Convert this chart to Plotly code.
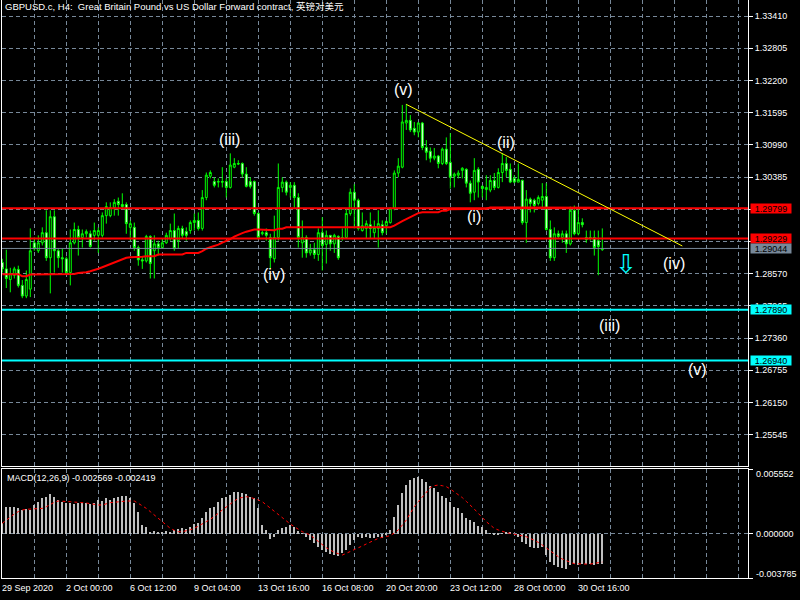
import plotly.graph_objects as go

# ---------------- data ----------------
bar_index = list(range(151))

opens = [1.2878, 1.2866, 1.2846, 1.2854, 1.2865, 1.2835, 1.2815, 1.2828, 1.2915, 1.2900,
         1.2915, 1.2934, 1.2887, 1.2964, 1.2900, 1.2887, 1.2885, 1.2859, 1.2915, 1.2940,
         1.2925, 1.2932, 1.2932, 1.2929, 1.2929, 1.2929, 1.2966, 1.2966, 1.2981, 1.2993,
         1.2987, 1.2987, 1.2944, 1.2944, 1.2906, 1.2883, 1.2881, 1.2927, 1.2900, 1.2913,
         1.2906, 1.2915, 1.2923, 1.2938, 1.2919, 1.2942, 1.2936, 1.2938, 1.2953, 1.2957,
         1.2942, 1.3000, 1.3040, 1.3030, 1.3029, 1.3030, 1.3030, 1.3019, 1.3057, 1.3064,
         1.3064, 1.3044, 1.3030, 1.3030, 1.2970, 1.2932, 1.2934, 1.2925, 1.2885, 1.2925,
         1.3019, 1.3029, 1.3019, 1.3023, 1.3000, 1.2915, 1.2925, 1.2896, 1.2902, 1.2893,
         1.2934, 1.2912, 1.2929, 1.2913, 1.2927, 1.2923, 1.2925, 1.2970, 1.3010, 1.2995,
         1.2938, 1.2942, 1.2949, 1.2934, 1.2942, 1.2949, 1.2947, 1.2953, 1.2980, 1.3046,
         1.3057, 1.3140, 1.3145, 1.3130, 1.3123, 1.3140, 1.3094, 1.3087, 1.3074, 1.3078,
         1.3064, 1.3091, 1.3066, 1.3040, 1.3042, 1.3051, 1.3053, 1.3027, 1.3010, 1.3053,
         1.3021, 1.3015, 1.3014, 1.3032, 1.3019, 1.3047, 1.3064, 1.3053, 1.3036, 1.3029,
         1.3032, 1.2953, 1.2997, 1.2995, 1.2989, 1.2995, 1.3002, 1.2940, 1.2887, 1.2932,
         1.2925, 1.2932, 1.2913, 1.2976, 1.2932, 1.2953, 1.2925, 1.2923, 1.2925, 1.2919,
         1.2902]

highs = [1.2885, 1.2902, 1.2868, 1.2870, 1.2872, 1.2845, 1.2863, 1.2942, 1.2925, 1.2929,
         1.2944, 1.2976, 1.2976, 1.2976, 1.2904, 1.2904, 1.2889, 1.2940, 1.2953, 1.2947,
         1.2940, 1.2940, 1.2938, 1.2953, 1.2944, 1.2972, 1.2991, 1.2991, 1.2997, 1.3000,
         1.3008, 1.2991, 1.2957, 1.2953, 1.2910, 1.2889, 1.2930, 1.2929, 1.2929, 1.2919,
         1.2923, 1.2934, 1.2951, 1.2970, 1.2947, 1.2947, 1.2944, 1.2957, 1.2970, 1.2972,
         1.3014, 1.3047, 1.3051, 1.3038, 1.3036, 1.3057, 1.3036, 1.3083, 1.3074, 1.3070,
         1.3066, 1.3057, 1.3038, 1.3032, 1.2972, 1.2938, 1.2942, 1.2932, 1.2966, 1.3064,
         1.3038, 1.3032, 1.3029, 1.3029, 1.3008, 1.2957, 1.2929, 1.2913, 1.2915, 1.2942,
         1.2963, 1.2938, 1.2929, 1.2932, 1.2929, 1.2942, 1.2980, 1.3017, 1.3025, 1.2998,
         1.2972, 1.2957, 1.2972, 1.2957, 1.2976, 1.2957, 1.2957, 1.2981, 1.3051, 1.3074,
         1.3174, 1.3176, 1.3155, 1.3142, 1.3142, 1.3142, 1.3108, 1.3094, 1.3093, 1.3080,
         1.3094, 1.3113, 1.3121, 1.3047, 1.3051, 1.3057, 1.3055, 1.3032, 1.3074, 1.3057,
         1.3023, 1.3042, 1.3042, 1.3046, 1.3055, 1.3083, 1.3076, 1.3064, 1.3042, 1.3064,
         1.3034, 1.3014, 1.3000, 1.2998, 1.3004, 1.3027, 1.3027, 1.2957, 1.2944, 1.2938,
         1.2938, 1.2938, 1.2983, 1.2985, 1.2981, 1.2961, 1.2938, 1.2938, 1.2938, 1.2938,
         1.2942]

lows = [1.2859, 1.2830, 1.2822, 1.2848, 1.2831, 1.2811, 1.2811, 1.2813, 1.2900, 1.2896,
        1.2910, 1.2881, 1.2820, 1.2859, 1.2868, 1.2859, 1.2856, 1.2835, 1.2912, 1.2891,
        1.2906, 1.2925, 1.2906, 1.2919, 1.2896, 1.2925, 1.2951, 1.2963, 1.2966, 1.2966,
        1.2980, 1.2932, 1.2919, 1.2900, 1.2872, 1.2866, 1.2878, 1.2848, 1.2848, 1.2891,
        1.2904, 1.2913, 1.2919, 1.2900, 1.2904, 1.2923, 1.2919, 1.2932, 1.2938, 1.2938,
        1.2938, 1.2995, 1.3036, 1.3019, 1.3019, 1.3019, 1.3000, 1.3017, 1.3055, 1.3061,
        1.3038, 1.3019, 1.3017, 1.2966, 1.2921, 1.2929, 1.2919, 1.2866, 1.2878, 1.2919,
        1.3010, 1.3004, 1.3000, 1.2981, 1.2906, 1.2887, 1.2887, 1.2891, 1.2885, 1.2881,
        1.2863, 1.2876, 1.2900, 1.2896, 1.2883, 1.2919, 1.2923, 1.2966, 1.2942, 1.2938,
        1.2936, 1.2923, 1.2923, 1.2923, 1.2906, 1.2929, 1.2932, 1.2951, 1.2976, 1.3038,
        1.3055, 1.3127, 1.3123, 1.3117, 1.3113, 1.3089, 1.3070, 1.3066, 1.3070, 1.3055,
        1.3061, 1.3061, 1.3017, 1.3019, 1.3036, 1.3036, 1.3019, 1.2991, 1.2995, 1.3000,
        1.3000, 1.2995, 1.3010, 1.3014, 1.3017, 1.3029, 1.3038, 1.3027, 1.3027, 1.3029,
        1.2949, 1.2915, 1.2972, 1.2972, 1.2985, 1.2981, 1.2938, 1.2881, 1.2881, 1.2923,
        1.2915, 1.2896, 1.2910, 1.2929, 1.2929, 1.2944, 1.2915, 1.2919, 1.2891, 1.2854,
        1.2900]

closes = [1.2866, 1.2848, 1.2857, 1.2866, 1.2835, 1.2815, 1.2846, 1.2900, 1.2904, 1.2915,
          1.2934, 1.2887, 1.2964, 1.2900, 1.2887, 1.2885, 1.2859, 1.2915, 1.2940, 1.2925,
          1.2932, 1.2936, 1.2908, 1.2938, 1.2938, 1.2966, 1.2983, 1.2981, 1.2991, 1.2987,
          1.2983, 1.2951, 1.2951, 1.2906, 1.2883, 1.2881, 1.2927, 1.2876, 1.2913, 1.2906,
          1.2915, 1.2929, 1.2938, 1.2904, 1.2942, 1.2929, 1.2929, 1.2953, 1.2957, 1.2942,
          1.3000, 1.3042, 1.3047, 1.3023, 1.3030, 1.3029, 1.3019, 1.3061, 1.3064, 1.3063,
          1.3044, 1.3021, 1.3021, 1.2970, 1.2925, 1.2934, 1.2929, 1.2887, 1.2925, 1.3019,
          1.3029, 1.3010, 1.3023, 1.3000, 1.2925, 1.2925, 1.2896, 1.2902, 1.2893, 1.2934,
          1.2910, 1.2929, 1.2913, 1.2929, 1.2887, 1.2925, 1.2970, 1.3010, 1.2995, 1.2942,
          1.2947, 1.2951, 1.2942, 1.2944, 1.2951, 1.2934, 1.2955, 1.2980, 1.3046, 1.3059,
          1.3142, 1.3145, 1.3127, 1.3123, 1.3140, 1.3094, 1.3085, 1.3074, 1.3078, 1.3064,
          1.3091, 1.3064, 1.3038, 1.3044, 1.3046, 1.3055, 1.3027, 1.3008, 1.3051, 1.3029,
          1.3017, 1.3019, 1.3032, 1.3019, 1.3047, 1.3064, 1.3051, 1.3029, 1.3029, 1.3034,
          1.2953, 1.2997, 1.2989, 1.2985, 1.3000, 1.3002, 1.2940, 1.2887, 1.2932, 1.2927,
          1.2932, 1.2913, 1.2976, 1.2932, 1.2953, 1.2949, 1.2921, 1.2925, 1.2906, 1.2908,
          1.29044]

moving_average = [1.28560, 1.28560, 1.28560, 1.28560, 1.28560, 1.28522, 1.28522, 1.28554, 1.28554, 1.28554,
                  1.28554, 1.28554, 1.28565, 1.28565, 1.28565, 1.28565, 1.28565, 1.28565, 1.28565, 1.28584,
                  1.28584, 1.28597, 1.28616, 1.28635, 1.28663, 1.28691, 1.28720, 1.28748, 1.28776, 1.28804,
                  1.28842, 1.28870, 1.28879, 1.28879, 1.28889, 1.28889, 1.28898, 1.28898, 1.28898, 1.28930,
                  1.28930, 1.28930, 1.28930, 1.28930, 1.28930, 1.28930, 1.28960, 1.28960, 1.28960, 1.28960,
                  1.28992, 1.29039, 1.29067, 1.29086, 1.29115, 1.29152, 1.29180, 1.29218, 1.29265, 1.29303,
                  1.29331, 1.29359, 1.29387, 1.29401, 1.29401, 1.29401, 1.29387, 1.29387, 1.29387, 1.29416,
                  1.29416, 1.29443, 1.29443, 1.29443, 1.29443, 1.29430, 1.29430, 1.29430, 1.29430, 1.29430,
                  1.29430, 1.29430, 1.29430, 1.29430, 1.29430, 1.29430, 1.29430, 1.29430, 1.29443, 1.29443,
                  1.29443, 1.29443, 1.29443, 1.29443, 1.29443, 1.29443, 1.29443, 1.29443, 1.29472, 1.29519,
                  1.29556, 1.29594, 1.29631, 1.29669, 1.29707, 1.29725, 1.29725, 1.29725, 1.29725, 1.29725,
                  1.29754, 1.29754, 1.29782, 1.29782, 1.29782, 1.29791, 1.29791, 1.29791, 1.29791, 1.29791,
                  1.29791, 1.29791, 1.29814, 1.29814, 1.29814, 1.29814, 1.29814, 1.29814, 1.29814, 1.29814,
                  1.29814, 1.29814, 1.29814, 1.29814, 1.29814, 1.29814, 1.29814, 1.29810, 1.29810, 1.29810,
                  1.29810, 1.29810, 1.29810, 1.29810, 1.29810, 1.29810, 1.29810, 1.29810, 1.29810, 1.29810,
                  1.29810]

macd_main = [0.00090, 0.00227, 0.00232, 0.00227, 0.00218, 0.00204, 0.00210, 0.00204, 0.00247, 0.00275,
             0.00304, 0.00318, 0.00338, 0.00318, 0.00290, 0.00275, 0.00267, 0.00267, 0.00252, 0.00261,
             0.00267, 0.00261, 0.00252, 0.00267, 0.00290, 0.00281, 0.00304, 0.00290, 0.00304, 0.00318,
             0.00324, 0.00324, 0.00304, 0.00261, 0.00190, 0.00075, 0.00061, 0.00018, 0.00024, 0.00010,
             0.00010, 0.00024, 0.00018, 0.00033, 0.00041, 0.00047, 0.00041, 0.00061, 0.00081, 0.00090,
             0.00133, 0.00190, 0.00218, 0.00232, 0.00275, 0.00304, 0.00318, 0.00332, 0.00361, 0.00361,
             0.00347, 0.00338, 0.00318, 0.00304, 0.00218, 0.00075, 0.00033, -0.00045, -0.00025, 0.00033,
             0.00047, 0.00061, 0.00075, 0.00061, 0.00024, 0.00004, -0.00025, -0.00053, -0.00082, -0.00110,
             -0.00139, -0.00159, -0.00173, -0.00182, -0.00187, -0.00167, -0.00139, -0.00096, -0.00053, -0.00025,
             -0.00033, -0.00025, -0.00033, -0.00033, -0.00025, -0.00033, -0.00010, 0.00033, 0.00147, 0.00247,
             0.00347, 0.00418, 0.00461, 0.00481, 0.00489, 0.00469, 0.00447, 0.00412, 0.00395, 0.00361,
             0.00327, 0.00304, 0.00275, 0.00232, 0.00218, 0.00175, 0.00133, 0.00118, 0.00104, 0.00070,
             0.00061, 0.00033, 0.00004, -0.00010, -0.00005, 0.00004, 0.00018, 0.00010, 0.00000, -0.00025,
             -0.00067, -0.00090, -0.00110, -0.00119, -0.00124, -0.00110, -0.00182, -0.00239, -0.00267, -0.00281,
             -0.00296, -0.00304, -0.00267, -0.00262, -0.00267, -0.00262, -0.00256, -0.00262, -0.00267, -0.00262,
             -0.002569]

macd_signal = [0.00090, 0.00118, 0.00147, 0.00170, 0.00190, 0.00204, 0.00210, 0.00212, 0.00215, 0.00218,
               0.00218, 0.00232, 0.00252, 0.00270, 0.00281, 0.00281, 0.00278, 0.00275, 0.00272, 0.00270,
               0.00270, 0.00264, 0.00258, 0.00252, 0.00247, 0.00247, 0.00258, 0.00267, 0.00270, 0.00275,
               0.00281, 0.00281, 0.00281, 0.00281, 0.00261, 0.00241, 0.00218, 0.00190, 0.00161, 0.00133,
               0.00104, 0.00075, 0.00047, 0.00030, 0.00018, 0.00018, 0.00024, 0.00035, 0.00047, 0.00064,
               0.00081, 0.00104, 0.00124, 0.00147, 0.00175, 0.00204, 0.00232, 0.00258, 0.00281, 0.00304,
               0.00312, 0.00318, 0.00312, 0.00304, 0.00290, 0.00275, 0.00247, 0.00218, 0.00190, 0.00161,
               0.00133, 0.00110, 0.00084, 0.00061, 0.00038, 0.00018, 0.00004, -0.00010, -0.00039, -0.00067,
               -0.00096, -0.00119, -0.00139, -0.00159, -0.00170, -0.00182, -0.00167, -0.00153, -0.00139, -0.00122,
               -0.00104, -0.00087, -0.00070, -0.00053, -0.00039, -0.00030, -0.00022, -0.00016, 0.00007, 0.00033,
               0.00075, 0.00118, 0.00175, 0.00232, 0.00275, 0.00318, 0.00361, 0.00395, 0.00412, 0.00418,
               0.00412, 0.00404, 0.00384, 0.00361, 0.00335, 0.00310, 0.00278, 0.00247, 0.00212, 0.00175,
               0.00138, 0.00104, 0.00075, 0.00047, 0.00033, 0.00018, 0.00010, 0.00004, -0.00002, -0.00010,
               -0.00016, -0.00025, -0.00039, -0.00053, -0.00073, -0.00096, -0.00122, -0.00147, -0.00173, -0.00196,
               -0.00216, -0.00233, -0.00244, -0.00256, -0.00259, -0.00259, -0.00259, -0.00259, -0.00253, -0.00247,
               -0.002419]

date_tick_bars = [0, 16, 32, 48, 64, 80, 96, 112, 128, 144]
date_tick_labels = ["29 Sep 2020", "2 Oct 00:00", "6 Oct 12:00", "9 Oct 04:00", "13 Oct 16:00",
                    "16 Oct 08:00", "20 Oct 20:00", "23 Oct 12:00", "28 Oct 00:00", "30 Oct 16:00"]

price_ticks = [1.33410, 1.32805, 1.32200, 1.31595, 1.30990, 1.30385, 1.29780, 1.29175,
               1.28570, 1.27965, 1.27360, 1.26755, 1.26150, 1.25545]
# labels fully hidden behind the level boxes in the reference are left blank
price_tick_text = ["1.33410", "1.32805", "1.32200", "1.31595", "1.30990", "1.30385", "", "",
                   "1.28570", "1.27965", "1.27360", "1.26755", "1.26150", "1.25545"]

red_levels = [1.29799, 1.29229]
bid_level = 1.29044
cyan_levels = [1.27890, 1.26940]
trend_start = (101, 1.3175)
trend_end = (170, 1.2909)

macd_scale_max = 0.005552
macd_scale_min = -0.003785
macd_label_text = "MACD(12,26,9) -0.002569 -0.002419"
title_text = "GBPUSD.c, H4:  Great Britain Pound vs US Dollar Forward contract, 英镑对美元"

wave_labels = ["(v)", "(iii)", "(iv)", "(ii)", "(i)", "(iv)", "(iii)", "(v)"]
wave_bars = [100.4, 56.9, 67.9, 125.9, 117.9, 167.9, 151.9, 173.9]
wave_prices = [1.32038, 1.31098, 1.28560, 1.31041, 1.29650, 1.28767, 1.27601, 1.26774]
arrow_bar, arrow_price = 155.9, 1.28748

# ---------------- figure ----------------
FONT = "Liberation Sans, Noto Sans CJK SC, DejaVu Sans"
GRID = "#778899"

fig = go.Figure()
fig.add_trace(go.Candlestick(
    x=bar_index, open=opens, high=highs, low=lows, close=closes,
    increasing=dict(line=dict(color="#00FF00", width=1), fillcolor="#000000"),
    decreasing=dict(line=dict(color="#00FF00", width=1), fillcolor="#FFFFFF"),
    whiskerwidth=0, xaxis="x", yaxis="y", showlegend=False, hoverinfo="skip"))
fig.add_trace(go.Scatter(x=bar_index, y=moving_average, mode="lines",
                         line=dict(color="#FF0000", width=2), xaxis="x", yaxis="y",
                         showlegend=False, hoverinfo="skip"))
fig.add_trace(go.Bar(x=bar_index, y=macd_main, width=0.2,
                     marker=dict(color="#C0C0C0", line=dict(width=0)),
                     xaxis="x2", yaxis="y2", showlegend=False, hoverinfo="skip"))
fig.add_trace(go.Scatter(x=bar_index, y=macd_signal, mode="lines",
                         line=dict(color="#FF0000", width=1, dash="dot"),
                         xaxis="x2", yaxis="y2", showlegend=False, hoverinfo="skip"))

xr = [-0.075, 186.425]
common = dict(showgrid=True, gridcolor=GRID, griddash="4px,3px", gridwidth=1, zeroline=False,
              showline=True, linecolor="#FFFFFF", linewidth=1, mirror=True)
grid_bars = list(range(8, 185, 8))

fig.update_layout(
    width=800, height=600, paper_bgcolor="#000000", plot_bgcolor="#000000",
    margin=dict(l=2, r=52, t=0, b=22, autoexpand=False), showlegend=False, bargap=0,
    font=dict(family=FONT, color="#FFFFFF", size=9),
    xaxis=dict(domain=[0, 1], anchor="y", range=xr, tickvals=grid_bars, showticklabels=False,
               ticks="", rangeslider=dict(visible=False), automargin=False, **common),
    xaxis2=dict(domain=[0, 1], anchor="y2", matches="x", range=xr, tickvals=grid_bars,
                showticklabels=False, ticks="", automargin=False, **common),
    yaxis=dict(domain=[0.19377, 1], anchor="x", side="right", range=[1.24957, 1.33711],
               tickvals=price_ticks, ticktext=price_tick_text,
               tickfont=dict(color="#FFFFFF", size=9, family=FONT), automargin=False,
               ticks="outside", ticklen=4, tickcolor="#FFFFFF", **common),
    yaxis2=dict(domain=[0, 0.18858], anchor="x2", side="right",
                range=[macd_scale_min, macd_scale_max], automargin=False,
                tickvals=[macd_scale_max, 0, macd_scale_min], showticklabels=False,
                ticks="outside", ticklen=4, tickcolor="#FFFFFF", **common),
)

shapes = []
for lvl in red_levels:
    shapes.append(dict(type="line", xref="x domain", x0=0, x1=1, yref="y", y0=lvl, y1=lvl,
                       line=dict(color="#FF0000", width=2)))
shapes.append(dict(type="line", xref="x domain", x0=0, x1=1, yref="y", y0=bid_level, y1=bid_level,
                   line=dict(color="#778899", width=1)))
for lvl in cyan_levels:
    shapes.append(dict(type="line", xref="x domain", x0=0, x1=1, yref="y", y0=lvl, y1=lvl,
                       line=dict(color="#00FFFF", width=2)))
shapes.append(dict(type="line", xref="x", yref="y", x0=trend_start[0], y0=trend_start[1],
                   x1=trend_end[0], y1=trend_end[1], line=dict(color="#FFFF00", width=1)))
fig.update_layout(shapes=shapes)

ann = []
ann.append(dict(text=title_text, xref="paper", yref="paper", x=0.0013, y=0.988, xanchor="left",
                yanchor="middle", showarrow=False, font=dict(size=9.5, color="#FFFFFF", family=FONT)))
# price boxes on the axis
box_x = 1 + 2 / 746
for lvl in red_levels:
    ann.append(dict(text=f"{lvl:.5f}", xref="paper", yref="y", x=box_x, y=lvl, xanchor="left",
                    yanchor="middle", showarrow=False, bgcolor="#FF0000", width=40, height=9,
                    borderpad=0, font=dict(size=9, color="#000000", family=FONT)))
ann.append(dict(text=f"{bid_level:.5f}", xref="paper", yref="y", x=box_x, y=bid_level, xanchor="left",
                yanchor="middle", showarrow=False, bgcolor="#778899", width=40, height=9,
                borderpad=0, font=dict(size=9, color="#000000", family=FONT)))
for lvl in cyan_levels:
    ann.append(dict(text=f"{lvl:.5f}", xref="paper", yref="y", x=box_x, y=lvl, xanchor="left",
                    yanchor="middle", showarrow=False, bgcolor="#00FFFF", width=40, height=9,
                    borderpad=0, font=dict(size=9, color="#000000", family=FONT)))
# wave labels
for t, bx, py in zip(wave_labels, wave_bars, wave_prices):
    ann.append(dict(text=t, xref="x", yref="y", x=bx, y=py, showarrow=False,
                    font=dict(size=16, color="#FFFFFF", family=FONT)))
ann.append(dict(text="⇩", xref="x", yref="y", x=arrow_bar, y=arrow_price, showarrow=False,
                font=dict(size=26, color="#00FFFF", family="DejaVu Sans")))
# MACD texts
ann.append(dict(text=macd_label_text, xref="paper", yref="paper", x=0.004, y=0.1730,
                xanchor="left", yanchor="middle", showarrow=False,
                font=dict(size=9, color="#FFFFFF", family=FONT)))
for v, txt, sh in [(macd_scale_max, "0.005552", -5), (0, "0.000000", 0), (macd_scale_min, "-0.003785", 4)]:
    ann.append(dict(text=txt, xref="paper", yref="y2", x=1 + 6 / 746, y=v, yshift=sh,
                    xanchor="left", yanchor="middle", showarrow=False,
                    font=dict(size=9, color="#FFFFFF", family=FONT)))
# date labels
for b, txt in zip(date_tick_bars, date_tick_labels):
    ann.append(dict(text=txt, xref="x2", yref="paper", x=b, y=0, yshift=-3, xshift=-2,
                    xanchor="left", yanchor="top", showarrow=False,
                    font=dict(size=9, color="#FFFFFF", family=FONT)))
fig.update_layout(annotations=ann)

fig.write_html("out.html", config={"displayModeBar": False},
               post_script="document.body.style.margin='0';document.body.style.overflow='hidden';")
